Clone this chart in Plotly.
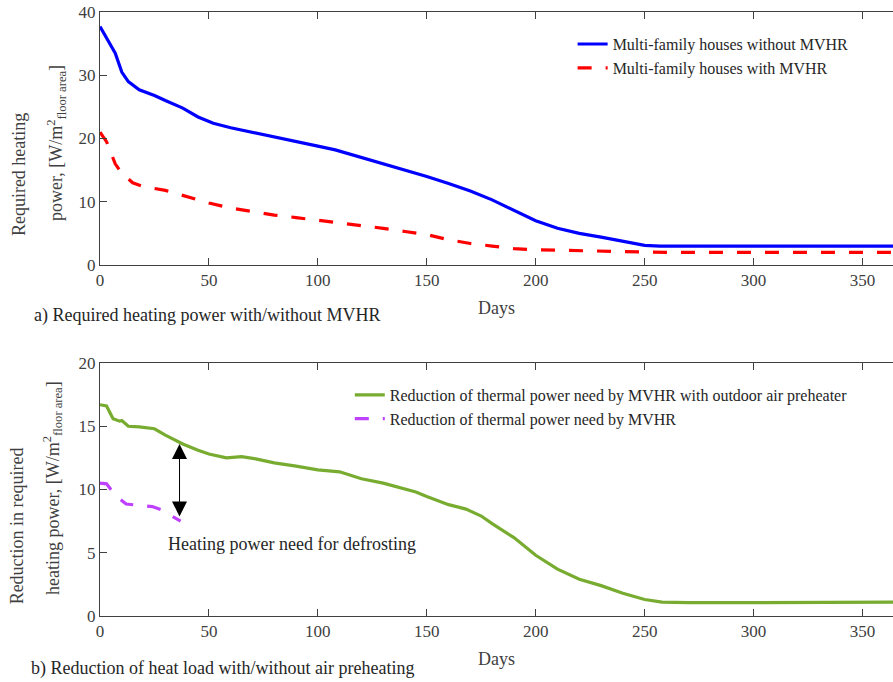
import plotly.graph_objects as go
from plotly.subplots import make_subplots

# ---- data ----
days_a_without = [0, 3, 7, 10, 13, 18, 25, 30, 38, 45, 52, 60, 70, 80, 90, 100, 108, 115, 122, 130,
                  140, 150, 160, 170, 180, 190, 200, 210, 220, 230, 240, 250, 257, 300, 365]
power_without = [37.7, 36.0, 33.5, 30.5, 29.0, 27.7, 26.8, 26.0, 24.8, 23.4, 22.4, 21.7, 21.0, 20.2,
                 19.5, 18.8, 18.2, 17.5, 16.9, 16.0, 15.0, 14.0, 12.9, 11.7, 10.3, 8.6, 7.0, 5.8,
                 5.0, 4.4, 3.7, 3.1, 3.0, 3.0, 3.0]

days_a_with = [0, 3, 7, 10, 15, 20, 30, 40, 50, 60, 70, 80, 90, 100, 110, 120, 130, 140, 150, 160,
               170, 180, 190, 200, 220, 240, 260, 300, 365]
power_with = [21.0, 19.5, 16.0, 14.5, 13.0, 12.4, 11.8, 10.8, 9.8, 9.0, 8.4, 7.9, 7.5, 7.1, 6.7, 6.3,
              5.8, 5.3, 4.8, 4.0, 3.4, 3.0, 2.6, 2.4, 2.3, 2.1, 2.0, 2.0, 2.0]

days_b_pre = [0, 3, 6, 9, 10, 13, 18, 25, 30, 38, 45, 50, 58, 65, 72, 80, 90, 100, 110, 115, 120, 130,
              140, 145, 150, 160, 168, 175, 180, 190, 200, 210, 220, 230, 240, 250, 258, 270, 300,
              330, 360, 365]
red_pre = [16.7, 16.6, 15.6, 15.4, 15.45, 15.0, 14.95, 14.8, 14.3, 13.6, 13.1, 12.8, 12.5, 12.6, 12.4,
           12.1, 11.85, 11.55, 11.4, 11.1, 10.85, 10.5, 10.0, 9.8, 9.45, 8.8, 8.45, 7.9, 7.3, 6.2,
           4.8, 3.7, 2.9, 2.4, 1.8, 1.3, 1.1, 1.05, 1.05, 1.05, 1.05, 1.1]

days_b_mvhr = [0, 3, 5, 8, 12, 17, 24, 28, 33, 37]
red_mvhr = [10.5, 10.45, 10.0, 9.4, 8.85, 8.75, 8.65, 8.4, 7.9, 7.5]

arrow_day = 36.5
arrow_top = 13.6
arrow_bottom = 7.75

x_ticks = [0, 50, 100, 150, 200, 250, 300, 350]

FONT = "Liberation Serif"
AX = "#404040"
TXT = "#262626"

fig = make_subplots(rows=2, cols=1, vertical_spacing=0.0)

fig.add_trace(go.Scatter(x=days_a_without, y=power_without, mode="lines",
                         line=dict(color="#0000FF", width=3.2),
                         name="Multi-family houses without MVHR", legend="legend"), row=1, col=1)
fig.add_trace(go.Scatter(x=days_a_with, y=power_with, mode="lines",
                         line=dict(color="#FF0000", width=3.2, dash="14px,14px"),
                         name="Multi-family houses with MVHR", legend="legend"), row=1, col=1)
fig.add_trace(go.Scatter(x=days_b_pre, y=red_pre, mode="lines",
                         line=dict(color="#77AC30", width=3.2),
                         name="Reduction of thermal power need by MVHR with outdoor air preheater",
                         legend="legend2"), row=2, col=1)
fig.add_trace(go.Scatter(x=days_b_mvhr, y=red_mvhr, mode="lines",
                         line=dict(color="#BF40FF", width=3.2, dash="14px,14px"),
                         name="Reduction of thermal power need by MVHR", legend="legend2"), row=2, col=1)

axis_common = dict(showline=True, linecolor=AX, linewidth=1, ticks="inside", ticklen=7,
                   tickcolor=AX, showgrid=False, zeroline=False,
                   tickfont=dict(family=FONT, size=17, color=AX))

fig.update_xaxes(range=[0, 364], tickvals=x_ticks, mirror="ticks", **axis_common,
                 title=dict(text="Days", font=dict(family=FONT, size=18, color=AX), standoff=11))
fig.update_yaxes(mirror=False, **axis_common)

fig.update_xaxes(domain=[0, 1], row=1, col=1)
fig.update_yaxes(domain=[0.5811, 1.0], range=[0, 40], tickvals=[0, 10, 20, 30, 40], row=1, col=1)
fig.update_yaxes(domain=[0.0, 0.4189], range=[0, 20], tickvals=[0, 5, 10, 15, 20], row=2, col=1)

yt_font = dict(family=FONT, size=18, color=AX)
ann = []
# y-axis titles (one annotation per line)
ann.append(dict(text="Required heating", xref="paper", yref="paper", x=-0.1021, y=0.730,
                textangle=-90, showarrow=False, font=yt_font, xanchor="center", yanchor="middle"))
ann.append(dict(text="power, [W/m<sup>2</sup><sub>floor area</sub>]", xref="paper", yref="paper",
                x=-0.0555, y=0.783, textangle=-90, showarrow=False, font=yt_font,
                xanchor="center", yanchor="middle"))
ann.append(dict(text="Reduction in required", xref="paper", yref="paper", x=-0.1047, y=0.150,
                textangle=-90, showarrow=False, font=yt_font, xanchor="center", yanchor="middle"))
ann.append(dict(text="heating power, [W/m<sup>2</sup><sub>floor area</sub>]", xref="paper", yref="paper",
                x=-0.0593, y=0.212, textangle=-90, showarrow=False, font=yt_font,
                xanchor="center", yanchor="middle"))
# captions
ann.append(dict(text="a) Required heating power with/without MVHR", xref="paper", yref="paper",
                x=-0.0858, y=0.4983, xanchor="left", yanchor="middle", showarrow=False,
                font=dict(family=FONT, size=18, color=TXT)))
ann.append(dict(text="b) Reduction of heat load with/without air preheating", xref="paper", yref="paper",
                x=-0.0895, y=-0.0861, xanchor="left", yanchor="middle", showarrow=False,
                font=dict(family=FONT, size=18, color=TXT)))
# double arrow
ann.append(dict(x=arrow_day, y=arrow_top, ax=arrow_day, ay=arrow_bottom, xref="x2", yref="y2",
                axref="x2", ayref="y2", showarrow=True, arrowhead=2, startarrowhead=2,
                arrowside="end+start", arrowsize=3, startarrowsize=3, arrowwidth=1,
                arrowcolor="black", text=""))
ann.append(dict(x=30.5, y=5.7, xref="x2", yref="y2", text="Heating power need for defrosting",
                showarrow=False, xanchor="left", yanchor="middle",
                font=dict(family=FONT, size=18, color=TXT)))

fig.update_layout(
    width=893, height=682,
    margin=dict(l=100, r=0, t=12, b=66),
    plot_bgcolor="white", paper_bgcolor="white",
    font=dict(family=FONT, color=TXT),
    annotations=ann,
    legend=dict(x=0.596, y=0.975, xanchor="left", yanchor="top", bgcolor="rgba(0,0,0,0)",
                font=dict(family=FONT, size=16, color=TXT), tracegroupgap=0),
    legend2=dict(x=0.315, y=0.394, xanchor="left", yanchor="top", bgcolor="rgba(0,0,0,0)",
                 font=dict(family=FONT, size=16, color=TXT), tracegroupgap=0),
)

fig.write_html("out.html")
